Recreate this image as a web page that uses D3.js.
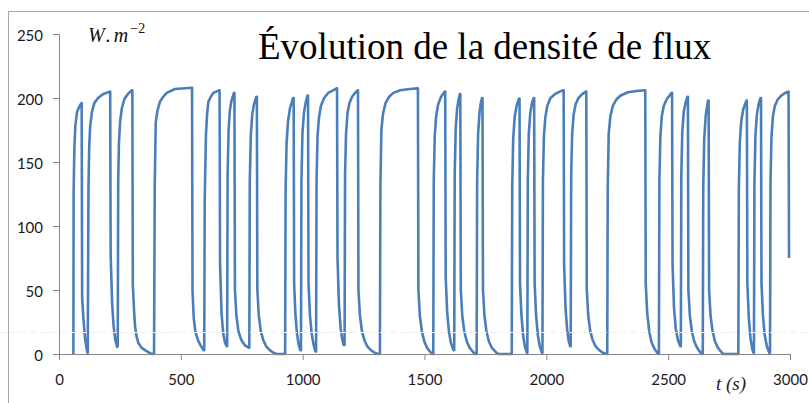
<!DOCTYPE html>
<html>
<head>
<meta charset="utf-8">
<script src="https://cdn.jsdelivr.net/npm/d3@7"></script>
<style>
  html, body { margin: 0; padding: 0; background: #fff; }
  svg { display: block; }
</style>
</head>
<body>
<svg id="chart" width="809" height="403"></svg>
<script>
const titleText = "Évolution de la densité de flux";
const xTicks = [0, 500, 1000, 1500, 2000, 2500, 3000];
const yTicks = [0, 50, 100, 150, 200, 250];

// flux samples [t (s), W.m-2], one array per pulse
const pulses = [
  [[59,0],[60,126],[63,160],[67,178],[74,189],[85,194],[92,196],
   [93,196],[95,44],[100,28],[107,12],[114,3],[117,1]],
  [[118,1],[121,130],[124,162],[128,178],[135,189],[145,196],[160,200],[180,203],[208,205],
   [210,205],[212,78],[218,40],[224,22],[231,11],[239,5.5]],
  [[241,6],[243,135],[246,165],[251,182],[258,192],[268,199],[282,203],[299,206],
   [301,206],[303,54],[308,34],[312,22],[318,14],[325,9],[338,5],[353,3],[370,1],[382,0],[390,0]],
  [[390,0],[393,132],[397,181],[404,190],[414,197],[428,201],[442,204],[476,207],[545,208],
   [546,208],[548,49],[553,28],[560,17],[572,10],[583,6],[594,3]],
  [[596,3],[598,120],[603,171],[608,188],[613,197],[623,201],[633,204],[657,206],
   [659,206],[661,70],[667,32],[674,16],[681,9],[688,6]],
  [[690,6],[692,140],[696,175],[701,190],[708,198],[718,204],
   [720,204],[722,50],[728,30],[736,18],[748,11],[762,7],[778,5]],
  [[781,5],[783,135],[787,170],[793,187],[800,195],[810,201],
   [812,201],[814,50],[820,30],[828,18],[838,11],[850,6],[865,3],[880,1],[893,0],[928,0]],
  [[928,0],[930,128],[934,165],[940,182],[948,192],[961,200],
   [963,200],[965,55],[970,32],[976,17],[983,8],[990,3]],
  [[993,3],[995,135],[999,172],[1005,188],[1012,196],[1020,202],
   [1022,202],[1024,55],[1030,30],[1037,16],[1045,7],[1052,2]],
  [[1055,2],[1057,135],[1061,170],[1067,185],[1075,194],[1088,200],[1105,204],[1125,206],[1139,207.5],
   [1141,207.5],[1143,75],[1149,38],[1156,20],[1162,12],[1168,7]],
  [[1172,7],[1174,140],[1178,172],[1184,188],[1192,196],[1203,201],[1215,204],[1225,206],
   [1227,206],[1229,50],[1235,30],[1243,18],[1253,11],[1265,6],[1280,3],[1295,1],[1310,0],[1317,0]],
  [[1317,0],[1319,130],[1323,175],[1330,188],[1340,196],[1355,201],[1372,204],[1400,206],[1440,207],[1471,207.5],
   [1473,207.5],[1475,50],[1481,30],[1489,18],[1499,10],[1510,5],[1522,2],[1532,0],[1536,0]],
  [[1536,0],[1538,135],[1542,170],[1548,186],[1556,195],[1568,201],[1583,205],
   [1585,205],[1587,60],[1593,33],[1600,18],[1608,9],[1619,3]],
  [[1622,3],[1624,140],[1628,176],[1634,192],[1640,199],[1645,203],
   [1647,203],[1649,50],[1655,30],[1663,18],[1673,10],[1685,5],[1697,2],[1707,0],[1714,0]],
  [[1714,0],[1716,135],[1720,172],[1726,189],[1731,196],[1736,200],
   [1738,200],[1740,50],[1746,30],[1754,18],[1764,10],[1776,5],[1790,2],[1802,0],[1858,0]],
  [[1858,0],[1860,130],[1864,168],[1870,185],[1878,194],[1888,199.5],
   [1890,199.5],[1892,55],[1898,30],[1905,14],[1912,6],[1920,1]],
  [[1922,1],[1924,135],[1928,172],[1934,188],[1941,196],[1948,200],
   [1950,200],[1952,55],[1958,30],[1965,15],[1973,6],[1982,1]],
  [[1984,1],[1986,135],[1990,170],[1996,185],[2004,194],[2017,200],[2035,203],[2055,205],[2069,206],
   [2071,206],[2073,70],[2079,35],[2086,18],[2092,10],[2098,6]],
  [[2100,6],[2102,140],[2106,172],[2112,187],[2120,195],[2132,200],[2147,203],[2162,205],
   [2164,205],[2166,50],[2172,30],[2180,18],[2190,11],[2202,6],[2217,3],[2232,1],[2248,0],[2250,0]],
  [[2250,0],[2252,130],[2256,172],[2263,186],[2273,194],[2288,199],[2305,202],[2335,204.5],[2370,205.5],[2404,206],
   [2406,206],[2408,55],[2414,32],[2422,18],[2432,9],[2444,4],[2455,1],[2460,0]],
  [[2462,0],[2464,135],[2468,170],[2474,186],[2482,194],[2494,199],[2514,204],
   [2516,204],[2518,70],[2524,36],[2531,20],[2540,11],[2550,6]],
  [[2552,6],[2554,140],[2558,174],[2564,189],[2571,196],[2579,201],
   [2581,201],[2583,50],[2589,30],[2597,18],[2607,10],[2618,5],[2629,2],[2638,0],[2642,0]],
  [[2642,0],[2644,130],[2648,168],[2654,186],[2660,194],[2664,198],
   [2666,198],[2668,50],[2674,30],[2682,18],[2692,10],[2704,5],[2716,2],[2726,0],[2788,0]],
  [[2788,0],[2790,128],[2794,165],[2800,182],[2808,191],[2821,198],
   [2823,198],[2825,55],[2831,28],[2838,12],[2845,4],[2850,1]],
  [[2852,1],[2854,132],[2858,170],[2864,187],[2871,195],[2879,200],
   [2881,200],[2883,55],[2889,30],[2896,15],[2905,6],[2915,1]],
  [[2918,1],[2920,135],[2924,170],[2930,186],[2938,194],[2950,199],[2965,202],[2980,204],[2993,205],
   [2994,205],[2996,75]]
];

const samples = pulses.flat();

const svg = d3.select('#chart');
const W = 809, H = 403;

const x = d3.scaleLinear().domain([0, 3000]).range([59, 790]);
const y = d3.scaleLinear().domain([0, 250]).range([354, 34]);

// outer chart frame (only top and left edges are visible)
svg.append('rect')
  .attr('x', 8.5).attr('y', 11.5)
  .attr('width', 900).attr('height', 500)
  .attr('fill', 'none').attr('stroke', '#a6a6a6');

// series (axes go on top of it)
const line = d3.line().x(d => x(d[0])).y(d => y(d[1]));
svg.append('path')
  .datum(samples)
  .attr('d', line)
  .attr('fill', 'none')
  .attr('stroke', '#4a7ebb')
  .attr('stroke-width', 2.6)
  .attr('stroke-linejoin', 'round');

const axisColor = '#868686';
const tickFont = 'Lato, "Open Sans", sans-serif';

// y axis
const yAxis = svg.append('g')
  .attr('transform', 'translate(' + x(0) + ',0)')
  .call(d3.axisLeft(y).tickValues(yTicks).tickSize(6).tickPadding(10));
// x axis
const xAxis = svg.append('g')
  .attr('transform', 'translate(0,' + y(0) + ')')
  .call(d3.axisBottom(x).tickValues(xTicks).tickFormat(d3.format('d')).tickSize(6).tickPadding(22));

[yAxis, xAxis].forEach(function(g){
  g.select('.domain').attr('stroke', axisColor);
  g.selectAll('.tick line').attr('stroke', axisColor);
  g.selectAll('.tick text')
    .attr('fill', '#1a1a1a')
    .style('font-family', tickFont)
    .style('font-size', '15px');
});
yAxis.selectAll('.tick text').attr('dy', '0.45em');
xAxis.selectAll('.tick text').attr('dy', '0.2em');

// faint dashed scan line that crosses the picture
svg.append('line')
  .attr('x1', 0).attr('x2', W)
  .attr('y1', 332.5).attr('y2', 332.5)
  .attr('stroke', '#f0f0f0')
  .attr('stroke-width', 1)
  .attr('stroke-dasharray', '7,3');

// unit label
const unit = svg.append('text')
  .attr('x', 88).attr('y', 42)
  .style('font-family', '"Liberation Serif", "DejaVu Serif", serif')
  .style('font-style', 'italic')
  .style('font-size', '20px')
  .attr('fill', '#111');
unit.append('tspan').text('W');
unit.append('tspan').attr('dx', 3).text('.');
unit.append('tspan').attr('dx', 3).text('m');
unit.append('tspan').attr('dx', 2).attr('dy', -9).style('font-size', '14px').style('font-style', 'normal').text('−2');

// title
svg.append('text')
  .attr('x', 258).attr('y', 59)
  .style('font-family', '"Liberation Serif", "Times New Roman", serif')
  .style('font-size', '37px')
  .attr('fill', '#000')
  .text(titleText);

// time label
svg.append('text')
  .attr('x', 716).attr('y', 390)
  .style('font-family', '"Liberation Serif", "DejaVu Serif", serif')
  .style('font-style', 'italic')
  .style('font-size', '19px')
  .attr('fill', '#222')
  .text('t (s)');
</script>
</body>
</html>
